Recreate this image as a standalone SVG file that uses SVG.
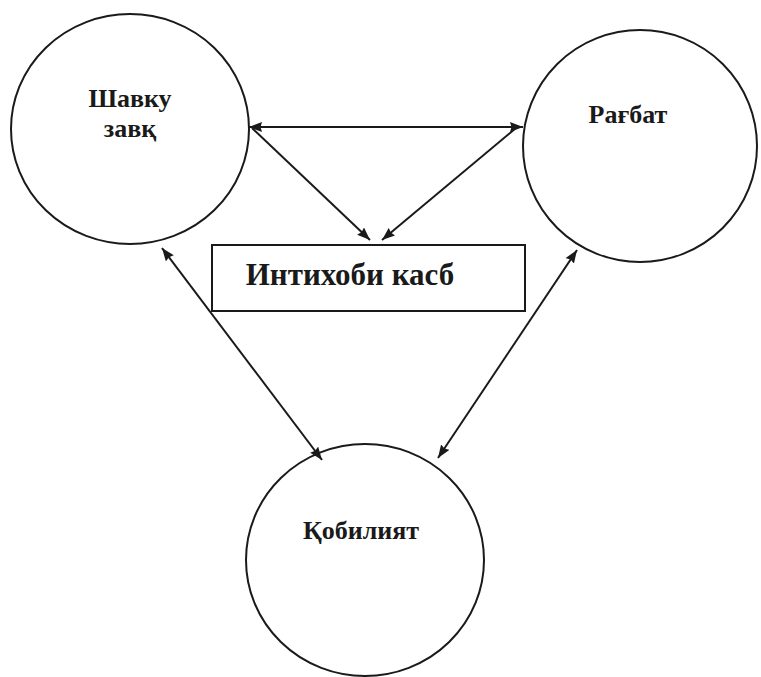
<svg xmlns="http://www.w3.org/2000/svg" width="761" height="677" viewBox="0 0 761 677">
<style>
.n{fill:#fff;stroke:#1a1a1a;stroke-width:2}
.t{font-family:"Liberation Serif","Times New Roman",serif;font-weight:bold;fill:#1a1a1a;text-anchor:middle}
.c{stroke:#1a1a1a;stroke-width:2;fill:none;marker-end:url(#ah)}
.b{marker-start:url(#as)}
</style>
<defs>
<marker id="ah" viewBox="0 0 13 10" refX="13" refY="5" markerWidth="13" markerHeight="10" markerUnits="userSpaceOnUse" orient="auto"><path d="M0,0 L13,5 L0,10 L1.5,5 z" fill="#1a1a1a"/></marker>
<marker id="as" viewBox="0 0 13 10" refX="0" refY="5" markerWidth="13" markerHeight="10" markerUnits="userSpaceOnUse" orient="auto"><path d="M13,0 L0,5 L13,10 L11.5,5 z" fill="#1a1a1a"/></marker>
</defs>
<rect width="761" height="677" fill="#fff"/>
<g id="shavku">
<ellipse class="n" cx="130" cy="129" rx="119" ry="115"/>
<text class="t" x="130" y="107" font-size="26">Шавку</text>
<text class="t" x="130" y="137" font-size="26">завқ</text>
</g>
<g id="ragbat">
<ellipse class="n" cx="640" cy="146" rx="117" ry="116"/>
<text class="t" x="628" y="123" font-size="26">Рағбат</text>
</g>
<g id="intikhob">
<rect class="n" x="212" y="245" width="313" height="66"/>
<text class="t" x="350" y="285" font-size="31">Интихоби касб</text>
</g>
<g id="qobiliyat">
<ellipse class="n" cx="365" cy="560" rx="119" ry="116"/>
<text class="t" x="361" y="539" font-size="26">Қобилият</text>
</g>
<g id="connectors">
<path class="c b" d="M249,127 L523,127"/>
<path class="c" d="M252,128 L370,240"/>
<path class="c" d="M516,128 L382,240"/>
<path class="c b" d="M162,248 L322,460"/>
<path class="c b" d="M577,250 L438,458"/>
</g>
</svg>
